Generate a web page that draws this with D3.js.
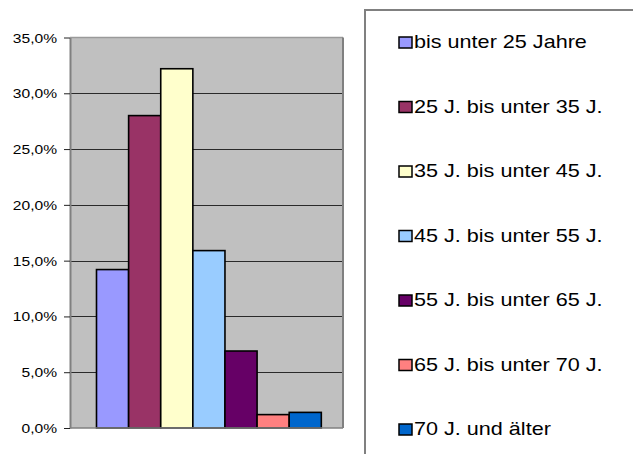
<!DOCTYPE html>
<html>
<head>
<meta charset="utf-8">
<script src="https://cdn.jsdelivr.net/npm/d3@7"></script>
<style>
  html, body { margin: 0; padding: 0; background: #ffffff; }
  svg { display: block; }
  text { font-family: "Liberation Sans", Arial, sans-serif; fill: #000; }
</style>
</head>
<body>
<svg id="chart" width="633" height="454"></svg>
<script>
// Age groups and their shares (percent)
const categories = [
  "bis unter 25 Jahre",
  "25 J. bis unter 35 J.",
  "35 J. bis unter 45 J.",
  "45 J. bis unter 55 J.",
  "55 J. bis unter 65 J.",
  "65 J. bis unter 70 J.",
  "70 J. und älter"
];
const shares = [14.2, 28.0, 32.2, 15.9, 6.9, 1.2, 1.4];
const colors = ["#9999FF", "#993366", "#FFFFCC", "#99CCFF", "#660066", "#FF8080", "#0066CC"];
const yTicks = [0, 5, 10, 15, 20, 25, 30, 35];

const svg = d3.select("#chart");

const plot = { left: 70, right: 343, top: 37.5, bottom: 428 };
const stretch = 1.2; // horizontal text stretch

const de = d3.formatLocale({ decimal: ",", thousands: ".", grouping: [3], currency: ["", " €"] });
const fmt = v => de.format(".1f")(v) + "%";

const x = d3.scaleBand()
  .domain(categories)
  .range([plot.left, plot.right])
  .paddingInner(0)
  .paddingOuter(0.75)
  .align(0.55);

const y = d3.scaleLinear()
  .domain([0, 35])
  .range([plot.bottom, plot.top]);

// plot background
svg.append("rect")
  .attr("x", plot.left).attr("y", plot.top)
  .attr("width", plot.right - plot.left)
  .attr("height", plot.bottom - plot.top)
  .attr("fill", "#C0C0C0");

// gridlines
svg.append("g")
  .selectAll("line")
  .data(yTicks.filter(t => t > 0 && t < 35))
  .join("line")
  .attr("x1", plot.left).attr("x2", plot.right)
  .attr("y1", d => Math.round(y(d)) + 0.5).attr("y2", d => Math.round(y(d)) + 0.5)
  .attr("stroke", "#2a2a2a").attr("stroke-width", 1);

// plot border (top and right)
svg.append("line")
  .attr("x1", plot.left).attr("x2", plot.right)
  .attr("y1", plot.top).attr("y2", plot.top)
  .attr("stroke", "#9a9a9a").attr("stroke-width", 1.5);
svg.append("line")
  .attr("x1", plot.right).attr("x2", plot.right)
  .attr("y1", plot.top).attr("y2", plot.bottom)
  .attr("stroke", "#808080").attr("stroke-width", 2);

// bars
svg.append("g")
  .selectAll("rect")
  .data(categories)
  .join("rect")
  .attr("x", d => x(d))
  .attr("y", (d, i) => y(shares[i]))
  .attr("width", x.bandwidth())
  .attr("height", (d, i) => y(0) - y(shares[i]))
  .attr("fill", (d, i) => colors[i])
  .attr("stroke", "#000")
  .attr("stroke-width", 1.6);

// bottom axis line
svg.append("line")
  .attr("x1", plot.left).attr("x2", plot.right)
  .attr("y1", plot.bottom).attr("y2", plot.bottom)
  .attr("stroke", "#808080").attr("stroke-width", 1.5);

// y axis
const yAxis = svg.append("g")
  .attr("transform", `translate(${plot.left},0)`)
  .call(d3.axisLeft(y).tickValues(yTicks).tickFormat(fmt).tickSize(6).tickSizeOuter(0));
yAxis.select(".domain").attr("stroke", "#808080").attr("stroke-width", 2);
yAxis.selectAll(".tick line").attr("stroke", "#222").attr("stroke-width", 1);
yAxis.selectAll(".tick text")
  .attr("x", 0)
  .attr("dy", "0.35em")
  .attr("transform", `translate(-13,0) scale(${stretch},1)`)
  .style("font-family", "'Liberation Sans', Arial, sans-serif")
  .style("font-size", "13px")
  .attr("fill", "#000");

// legend frame
svg.append("path")
  .attr("d", "M 365 460 L 365 10 L 640 10")
  .attr("fill", "none")
  .attr("stroke", "#808080")
  .attr("stroke-width", 2);

// legend entries
const step = 64.5;
const legend = svg.append("g")
  .selectAll("g")
  .data(categories)
  .join("g")
  .attr("transform", (d, i) => `translate(399,${48 + i * step})`);

legend.append("rect")
  .attr("x", 0).attr("y", -11)
  .attr("width", 13).attr("height", 11)
  .attr("fill", (d, i) => colors[i])
  .attr("stroke", "#000")
  .attr("stroke-width", 1.5);

legend.append("text")
  .attr("transform", `translate(15,0) scale(${stretch},1)`)
  .style("font-size", "18px")
  .text(d => d);
</script>
</body>
</html>
